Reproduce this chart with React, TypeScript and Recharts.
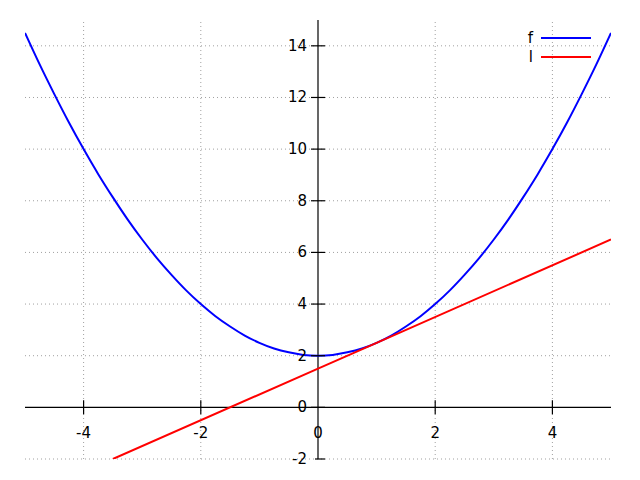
import { LineChart, Line, XAxis, YAxis, ReferenceLine, ReferenceDot } from "recharts"

// values
const fX = [
  -5, -4.75, -4.5, -4.25, -4, -3.75, -3.5, -3.25, -3, -2.75, -2.5, -2.25, -2, -1.75, -1.5, -1.25, -1, -0.75, -0.5, -0.25,
  0, 0.25, 0.5, 0.75, 1, 1.25, 1.5, 1.75, 2, 2.25, 2.5, 2.75, 3, 3.25, 3.5, 3.75, 4, 4.25, 4.5, 4.75, 5,
]
const fY = [
  14.5, 13.28, 12.13, 11.03, 10, 9.03, 8.13, 7.28, 6.5, 5.78, 5.13, 4.53, 4, 3.53, 3.13, 2.78, 2.5, 2.28, 2.13, 2.03,
  2, 2.03, 2.13, 2.28, 2.5, 2.78, 3.13, 3.53, 4, 4.53, 5.13, 5.78, 6.5, 7.28, 8.13, 9.03, 10, 11.03, 12.13, 13.28, 14.5,
]
const lX = [-3.5, 0, 1, 5]
const lY = [-2, 1.5, 2.5, 6.5]

const xTicks = [-4, -2, 0, 2, 4]
const yTicks = [-2, 0, 2, 4, 6, 8, 10, 12, 14]
const seriesNames = ["f", "l"]
const seriesColors = ["#0000ff", "#ff0000"]

const fData = fX.map((x, i) => ({ x, y: fY[i] }))
const lData = lX.map((x, i) => ({ x, y: lY[i] }))

const font = { fontFamily: "DejaVu Sans", fontSize: 15, fill: "#000" }

const xTickShape = (t: number) => (p: any) => (
  <g>
    {t !== 0 && <line x1={p.cx} x2={p.cx} y1={p.cy - 7} y2={p.cy + 7} stroke="#000" strokeWidth={1.2} />}
    <text x={p.cx} y={p.cy + 31} textAnchor="middle" {...font}>{t}</text>
  </g>
)

const yTickShape = (t: number) => (p: any) => (
  <g>
    <line x1={t === -2 ? p.cx - 3 : p.cx - 7} x2={p.cx + 7} y1={p.cy} y2={p.cy} stroke="#000" strokeWidth={1.2} />
    <text x={p.cx - 11} y={p.cy + 5} textAnchor="end" {...font}>{t}</text>
  </g>
)

export default function App() {
  return (
    <div style={{ position: "absolute", left: 0, top: 0, width: 640, height: 480, background: "#fff" }}>
      <LineChart width={640} height={480} margin={{ top: 20, right: 29, bottom: 21, left: 25 }}>
        <XAxis dataKey="x" type="number" domain={[-5, 5]} hide allowDataOverflow />
        <YAxis type="number" domain={[-2, 15]} hide allowDataOverflow />
        {xTicks.filter((t) => t !== 0).map((t) => (
          <ReferenceLine key={"gx" + t} x={t} stroke="#a0a0a0" strokeDasharray="1 3" />
        ))}
        {yTicks.filter((t) => t !== 0).map((t) => (
          <ReferenceLine key={"gy" + t} y={t} stroke="#a0a0a0" strokeDasharray="1 3" />
        ))}
        <ReferenceLine x={0} stroke="#000" strokeWidth={1.2} />
        <ReferenceLine y={0} stroke="#000" strokeWidth={1.2} />
        {xTicks.map((t) => (
          <ReferenceDot key={"tx" + t} x={t} y={0} r={0} shape={xTickShape(t)} />
        ))}
        {yTicks.map((t) => (
          <ReferenceDot key={"ty" + t} x={0} y={t} r={0} shape={yTickShape(t)} />
        ))}
        <Line data={fData} dataKey="y" type="natural" stroke={seriesColors[0]} strokeWidth={2} dot={false} isAnimationActive={false} />
        <Line data={lData} dataKey="y" type="linear" stroke={seriesColors[1]} strokeWidth={2} dot={false} isAnimationActive={false} />
      </LineChart>
      <div style={{ position: "absolute", left: 480, top: 28, width: 111, fontFamily: "DejaVu Sans", fontSize: 15 }}>
        {seriesNames.map((n, i) => (
          <div key={n} style={{ height: 19, display: "flex", justifyContent: "flex-end", alignItems: "center" }}>
            <span style={{ marginRight: 8 }}>{n}</span>
            <span style={{ width: 50, height: 2, background: seriesColors[i] }} />
          </div>
        ))}
      </div>
    </div>
  )
}
